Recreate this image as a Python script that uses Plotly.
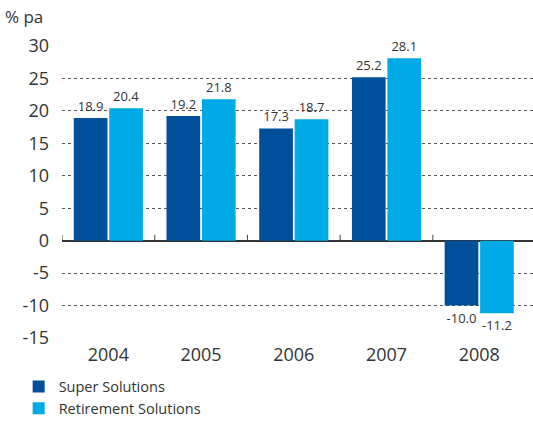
import plotly.graph_objects as go

years = ["2004", "2005", "2006", "2007", "2008"]
super_solutions = [18.9, 19.2, 17.3, 25.2, -10.0]
retirement_solutions = [20.4, 21.8, 18.7, 28.1, -11.2]
y_ticks = [30, 25, 20, 15, 10, 5, 0, -5, -10, -15]
y_tick_text = [str(v) for v in y_ticks]

DARK = "#004f9a"
LIGHT = "#00aae7"
TXT = "#333333"
FONT = "Open Sans"

fig = go.Figure()
fig.add_trace(go.Bar(
    x=years, y=super_solutions, name="Super Solutions",
    marker=dict(color=DARK, line=dict(width=0)),
    text=[f"{v:.1f}" for v in super_solutions], textposition="outside",
    textfont=dict(size=13, color=TXT, family=FONT), cliponaxis=False,
))
fig.add_trace(go.Bar(
    x=years, y=retirement_solutions, name="Retirement Solutions",
    marker=dict(color=LIGHT, line=dict(width=0)),
    text=[f"{v:.1f}" for v in retirement_solutions], textposition="outside",
    textfont=dict(size=13, color=TXT, family=FONT), cliponaxis=False,
))

# small tick marks on the zero line at category boundaries
for i in range(len(years)):
    fig.add_shape(type="line", xref="x", yref="y", x0=i - 0.5, x1=i - 0.5,
                  y0=0, y1=0.9, line=dict(color="#444444", width=1))

fig.add_annotation(text="% pa", xref="paper", yref="paper", x=-0.125, y=1.10,
                   xanchor="left", yanchor="middle", showarrow=False,
                   font=dict(size=17, color=TXT, family=FONT))

fig.update_layout(
    width=533, height=421,
    margin=dict(l=62, r=0, t=46, b=83, autoexpand=False),
    paper_bgcolor="white", plot_bgcolor="white",
    barmode="group", bargap=0.235, bargroupgap=0.05,
    font=dict(family=FONT, color=TXT),
    showlegend=True,
    legend=dict(orientation="v", xref="container", yref="container",
                x=0.035, y=0.12, xanchor="left", yanchor="top",
                font=dict(size=14.5, color=TXT, family=FONT),
                traceorder="normal", itemsizing="constant"),
    xaxis=dict(range=[-0.5, 4.58], showgrid=False, showline=False, ticks="",
               ticklabelstandoff=4,
               tickfont=dict(size=18, color=TXT, family=FONT)),
    yaxis=dict(range=[-15, 30], tickvals=y_ticks, ticktext=y_tick_text,
               showgrid=True,
               gridcolor="#555555", gridwidth=1, griddash="3px,3px",
               zeroline=True, zerolinecolor="#333333", zerolinewidth=2,
               showline=False, ticks="", ticklabelstandoff=12,
               tickfont=dict(size=18, color=TXT, family=FONT)),
)

fig.write_html("out.html")
